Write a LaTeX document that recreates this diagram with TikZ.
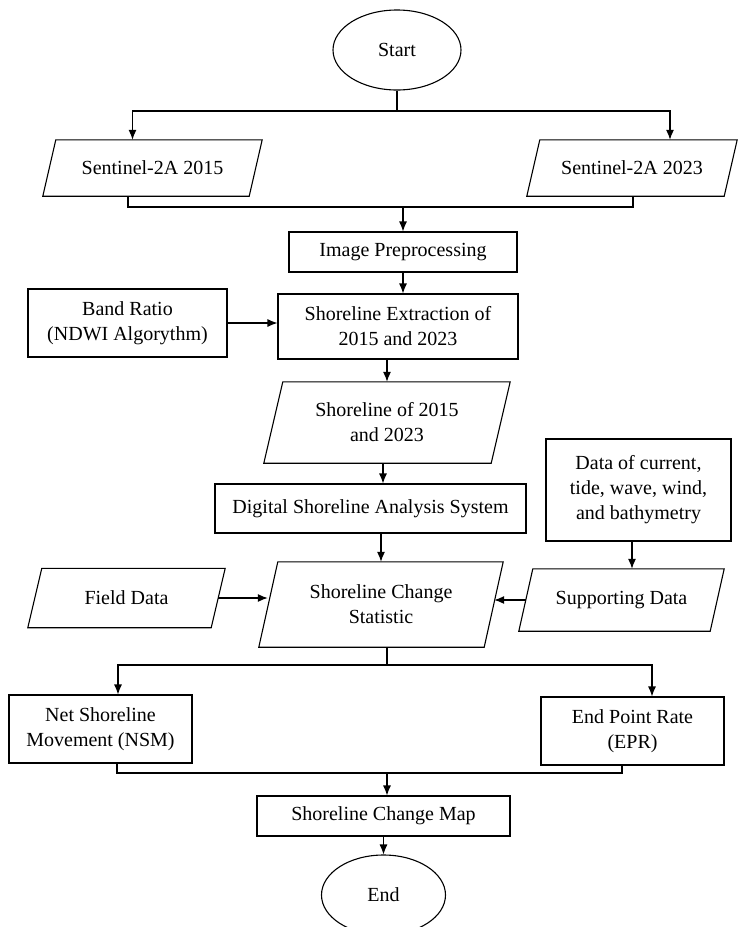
\documentclass[tikz,border=0pt]{standalone}
\usepackage{fontspec}
\setmainfont{Liberation Serif}
\usetikzlibrary{shapes.geometric,arrows.meta}
\tikzset{
	flowtext/.style={inner sep=0pt, align=center, font=\fontsize{20}{25}\selectfont},
	flowbox/.style={flowtext, draw, rectangle, line width=1.1pt},
	flowpara/.style={flowtext, rectangle},
	flowoval/.style={flowtext, draw, ellipse, line width=1.1pt},
	flowline/.style={line width=1.1pt},
	flowarrow/.style={line width=1.1pt, -{Latex[length=10pt,width=8pt]}},
}
% parallelogram round a node: (name){slant}
\def\para(#1)#2{\draw[flowline] ([xshift=#2pt]#1.north west) -- (#1.north east) -- ([xshift=-#2pt]#1.south east) -- (#1.south west) -- cycle;}

\begin{document}
\begin{tikzpicture}[x=1pt, y=-1pt]
		%%%%% START %%%%%
		\useasboundingbox (0,0) rectangle (738,927);
		
		\node[flowoval, minimum width=128, minimum height=80] (start) at (397,50) {Start};
		
		\node[flowpara, minimum width=219, minimum height=56] (s15) at (152.5,168) {Sentinel-2A 2015};
		\para(s15){13}
		\node[flowpara, minimum width=210, minimum height=56] (s23) at (632,168) {Sentinel-2A 2023};
		\para(s23){13}
		
		\node[flowbox, minimum width=228, minimum height=40] (prep) at (403,252) {Image Preprocessing};
		\node[flowbox, minimum width=199, minimum height=68] (band) at (127.5,323) {Band Ratio\\(NDWI Algorythm)};
		\node[flowbox, minimum width=240, minimum height=65] (extr) at (398,326.5) {Shoreline Extraction of\\2015 and 2023};
		\node[flowpara, minimum width=246, minimum height=81] (shr) at (387,422.5) {Shoreline of 2015\\and 2023};
		\para(shr){19}
		
		\node[flowbox, minimum width=311, minimum height=49] (dsas) at (370.5,508.5) {Digital Shoreline Analysis System};
		\node[flowbox, minimum width=185, minimum height=102] (data) at (638.5,490) {Data of current,\\tide, wave, wind,\\and bathymetry};
		
		\node[flowpara, minimum width=197, minimum height=59] (field) at (126.5,598) {Field Data};
		\para(field){14}
		\node[flowpara, minimum width=244, minimum height=85] (stat) at (381,604.5) {Shoreline Change\\Statistic};
		\para(stat){19}
		\node[flowpara, minimum width=205, minimum height=62] (sup) at (621.5,600) {Supporting Data};
		\para(sup){14}
		
		\node[flowbox, minimum width=183, minimum height=68] (nsm) at (100.5,729) {Net Shoreline\\Movement (NSM)};
		\node[flowbox, minimum width=183, minimum height=68] (epr) at (632.5,731) {End Point Rate\\(EPR)};
		
		\node[flowbox, minimum width=253, minimum height=40] (map) at (383.5,816) {Shoreline Change Map};
		\node[flowoval, minimum width=124, minimum height=80] (end) at (383.5,895) {End};
		
		% split after start
		\coordinate (split1) at (397,111);
		\draw[flowline] (start.south) -- (split1);
		\draw[flowarrow] (split1) -| ([xshift=-20pt]s15.north);
		\draw[flowarrow] (split1) -| ([xshift=38pt]s23.north);
		
		% join of the two images
		\coordinate (join1) at (403,207);
		\draw[flowline] ([xshift=-24.5pt]s15.south) |- (join1);
		\draw[flowline] ([xshift=1pt]s23.south) |- (join1);
		\draw[flowarrow] (join1) -- (join1 |- prep.north);
		
		\draw[flowarrow] (prep.south) -- (prep.south |- extr.north);
		\draw[flowarrow] (band.east) -- (band.east -| extr.west);
		\draw[flowarrow] (extr.south -| shr.north) -- (shr.north);
		\draw[flowarrow] ([xshift=-4pt]shr.south) -- ([xshift=-4pt]shr.south |- dsas.north);
		\draw[flowarrow] (stat.north |- dsas.south) -- (stat.north);
		\draw[flowarrow] ([xshift=-6.5pt]data.south) -- ([xshift=-6.5pt]data.south |- sup.north);
		\draw[flowarrow] ([xshift=-7pt]field.east) -- ([xshift=9pt]field.east -| stat.west);
		\draw[flowarrow] ([xshift=7pt]sup.west) -- ([xshift=-9pt]sup.west -| stat.east);
		
		% split after statistic
		\coordinate (split2) at (387,665);
		\draw[flowline] (split2 |- stat.south) -- (split2);
		\draw[flowarrow] (split2) -| ([xshift=17.5pt]nsm.north);
		\draw[flowarrow] (split2) -| ([xshift=19.5pt]epr.north);
		
		% join of the two results
		\coordinate (join2) at (387,773);
		\draw[flowline] ([xshift=16.5pt]nsm.south) |- (join2);
		\draw[flowline] ([xshift=-10.5pt]epr.south) |- (join2);
		\draw[flowarrow] (join2) -- (join2 |- map.north);
		
		\draw[flowarrow] (map.south) -- (end.north);
		%%%%% END %%%%%
	\end{tikzpicture}
\end{document}
